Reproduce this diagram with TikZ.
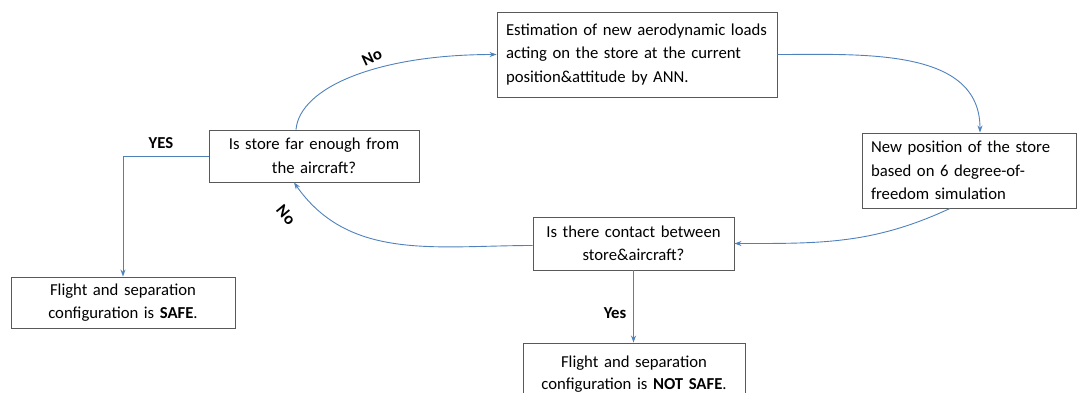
\documentclass[tikz,border=0pt]{standalone}
\usepackage{fontspec}
\setmainfont{Carlito}
\usepackage{tikz}
\usetikzlibrary{arrows.meta,positioning,calc}

\definecolor{flowblue}{RGB}{79,129,189}
\tikzset{
  box/.style={draw=black!65,line width=0.9pt,fill=white,inner xsep=9pt,
    font=\fontsize{16.7}{23.5}\selectfont},
  flow/.style={draw=flowblue,line width=0.9pt,-{Stealth[length=7pt,width=5pt]}},
  lbl/.style={inner sep=0pt,font=\fontsize{16.7}{20}\selectfont\bfseries}
}

\begin{document}
\begin{tikzpicture}[x=1pt,y=1pt]
  \useasboundingbox (0,0) rectangle (1078,392);
  % 上の箱：ANNによる空力荷重の推定
  \node[box,minimum width=280pt,minimum height=85pt,text width=262pt,align=left]
    (est) at (637,337.5) {Estimation of new aerodynamic loads\\acting on the store at the current\\position\&attitude by ANN.};
  % 右の箱：6自由度シミュレーション
  \node[box,minimum width=214pt,minimum height=75pt,text width=196pt,align=left]
    (newpos) at (969,221.5) {New position of the store\\based on 6 degree-of-\\freedom simulation};
  % 左の判定：十分離れたか
  \node[box,minimum width=210pt,minimum height=52pt,text width=192pt,align=center]
    (far) at (314,236) {Is store far enough from\\the aircraft?};
  % 中央の判定：接触の有無
  \node[box,minimum width=201pt,minimum height=53pt,text width=183pt,align=center]
    (contact) at (633.5,148.5) {Is there contact between\\store\&aircraft?};
  % 結果：安全
  \node[box,minimum width=224pt,minimum height=51pt,text width=206pt,align=center]
    (safe) at (123,89.5) {Flight and separation\\configuration is \textbf{SAFE}.};
  % 結果：安全でない（下端は画面外）
  \node[box,minimum width=222pt,minimum height=62pt,text width=204pt,align=center]
    (notsafe) at (634,18) {Flight and separation\\[-1pt]configuration is \textbf{NOT SAFE}.};

  % ループの曲線
  \draw[flow] ([xshift=-18pt]far.north) .. controls +(4,43) and +(-117,0) .. (est.west);
  \draw[flow] (est.east) to[out=0,in=90] ([xshift=11pt]newpos.north);
  \draw[flow] ([xshift=-19pt]newpos.south) to[out=205,in=0] (contact.east);
  \draw[flow] ([yshift=-2pt]contact.west) to[out=180,in=-55] ([xshift=-20pt]far.south);
  % 分岐
  \draw[flow] (far.west) -| (safe.north);
  \draw[flow] (contact.south) -- (contact.south |- notsafe.north);

  \node[lbl,rotate=25] (no1) at (372,335) {No};
  \node[lbl,rotate=-50] (no2) at (286,177) {No};
  \node[lbl] (yes1) at (161,249) {YES};
  \node[lbl] (yes2) at (615,79) {Yes};
\end{tikzpicture}
\end{document}
